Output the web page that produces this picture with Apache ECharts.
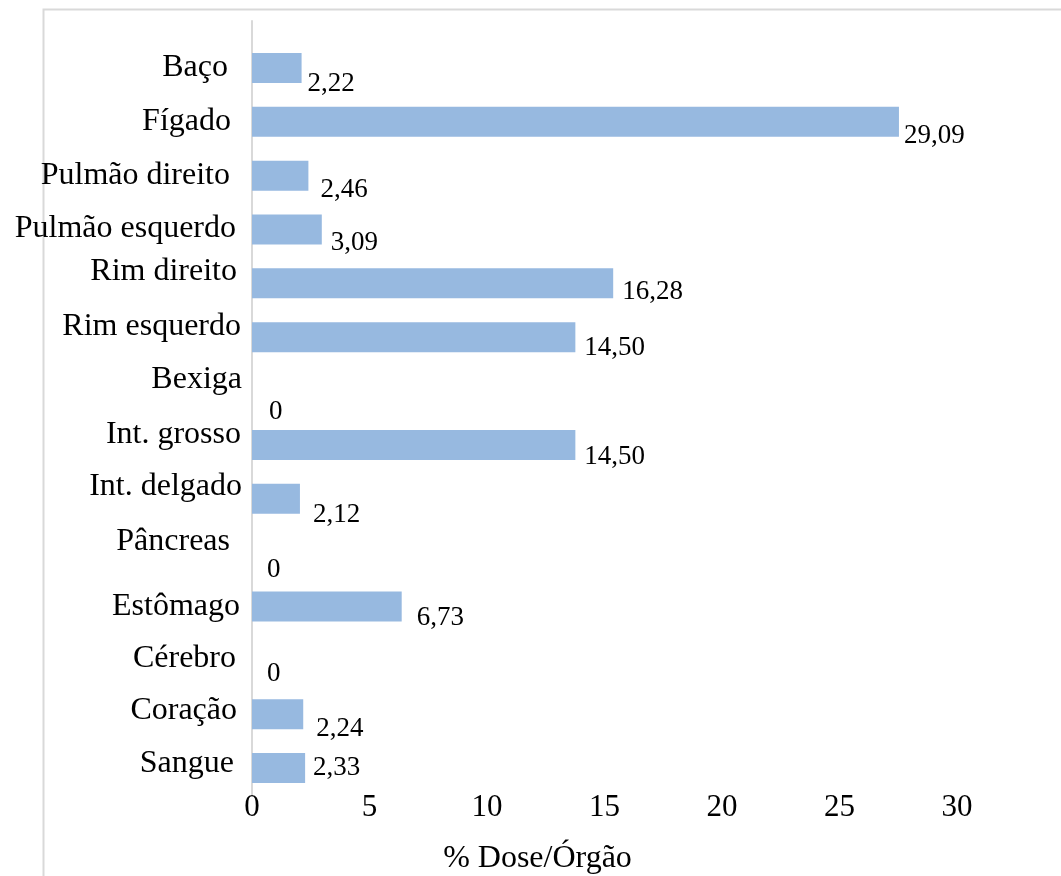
<!DOCTYPE html>
<html>
<head>
<meta charset="utf-8">
<title>% Dose/Órgão</title>
<script src="https://cdn.jsdelivr.net/npm/echarts@6/dist/echarts.min.js"></script>
<style>
  html, body { margin: 0; padding: 0; background: #fff; }
  #chart { width: 1061px; height: 876px; }
</style>
</head>
<body>
<div id="chart"></div>
<script>
  // orgaos, de cima para baixo
  const categories = ['Baço', 'Fígado', 'Pulmão direito', 'Pulmão esquerdo', 'Rim direito', 'Rim esquerdo',
    'Bexiga', 'Int. grosso', 'Int. delgado', 'Pâncreas', 'Estômago', 'Cérebro', 'Coração', 'Sangue']
  // comprimento das barras lido no eixo da figura
  const barValues = [2.11, 27.53, 2.40, 2.97, 15.37, 13.76, 0, 13.76, 2.04, 0, 6.37, 0, 2.18, 2.26]
  // rotulos impressos ao lado das barras
  const valueLabels = ['2,22', '29,09', '2,46', '3,09', '16,28', '14,50', '0', '14,50', '2,12', '0', '6,73', '0', '2,24', '2,33']
  const xTicks = [0, 5, 10, 15, 20, 25, 30]
  const axisName = '% Dose/Órgão'

  // ajustes finos de posicao dos textos (estilo, nao dados)
  const labelDx = [6, 5, 12, 9, 9, 9, 17, 9, 13, 15, 15, 15, 13, 8]
  const labelDy = [16, 14, 14, 13, 9, 11, 21, 12, 16, 17, 11, 14, 15, 0]
  const catLift = [0, 0, 0, 1, 12, 11, 11, 10, 12, 11, 0, 2, 4, 4]
  const catPadR = [14, 11, 12, 6, 5, 1, 0, 1, 0, 12, 2, 6, 5, 8]

  const font = 'Liberation Serif'
  const myChart = echarts.init(document.getElementById('chart'))

  let rich = {}
  categories.forEach((c, i) => {
    rich['c' + i] = {
      fontFamily: font,
      fontSize: 32,
      color: '#000',
      padding: [0, catPadR[i], catLift[i] * 2, 0]
    }
  })

  let seriesData = barValues.map((v, i) => {
    return {
      value: v,
      label: { offset: [labelDx[i], labelDy[i]] }
    }
  })

  let option = {
    animation: false,
    backgroundColor: '#fff',
    graphic: [{
      type: 'rect',
      silent: true,
      shape: { x: 43.5, y: 9.5, width: 1100, height: 1000 },
      style: { fill: 'none', stroke: '#d9d9d9', lineWidth: 2 }
    }],
    grid: [{
      left: 252,
      right: 104,
      top: 41,
      bottom: 81,
      outerBoundsMode: 'none'
    }, {
      // so para a linha do eixo vertical
      left: 252,
      right: 104,
      top: 21,
      bottom: 81,
      outerBoundsMode: 'none'
    }],
    xAxis: [{
      type: 'value',
      min: xTicks[0],
      max: xTicks[xTicks.length - 1],
      interval: xTicks[1] - xTicks[0],
      splitLine: { show: false },
      axisLine: { show: false },
      axisTick: { show: false },
      axisLabel: {
        margin: -3,
        fontFamily: font,
        fontSize: 31,
        color: '#000'
      },
      name: axisName,
      nameLocation: 'middle',
      nameGap: 48,
      nameTextStyle: {
        fontFamily: font,
        fontSize: 32,
        color: '#000',
        padding: [0, 134, 0, 0]
      }
    }, {
      gridIndex: 1,
      type: 'value',
      min: 0,
      max: 1,
      show: false
    }],
    yAxis: [{
      type: 'category',
      inverse: true,
      data: categories,
      axisLine: { show: false },
      axisTick: { show: false },
      splitLine: { show: false },
      axisLabel: {
        margin: 10,
        interval: 0,
        formatter: (value, index) => '{c' + index + '|' + value + '}',
        rich: rich
      }
    }, {
      gridIndex: 1,
      type: 'value',
      axisLine: { show: true, lineStyle: { color: '#d9d9d9', width: 2 } },
      axisTick: { show: false },
      axisLabel: { show: false },
      splitLine: { show: false }
    }],
    series: [{
      type: 'bar',
      barWidth: 30,
      data: seriesData,
      itemStyle: {
        color: '#97b9e0'
      },
      label: {
        show: true,
        position: 'right',
        distance: 0,
        fontFamily: font,
        fontSize: 27,
        color: '#000',
        formatter: (p) => valueLabels[p.dataIndex]
      }
    }]
  }

  myChart.setOption(option)
</script>
</body>
</html>
